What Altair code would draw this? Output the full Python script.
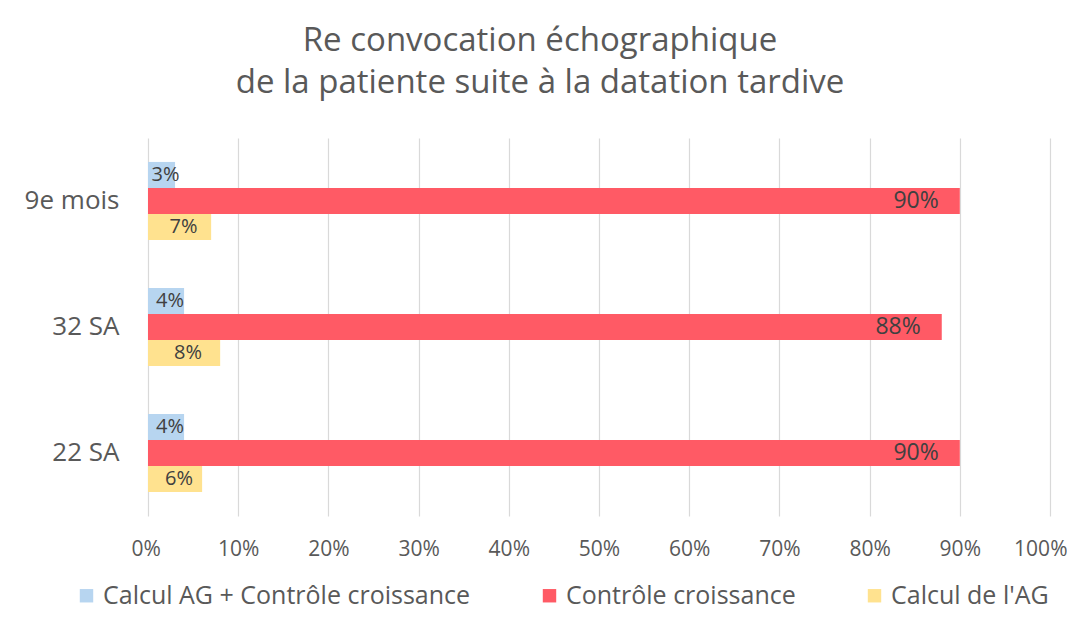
import altair as alt
import pandas as pd

categories = ["9e mois", "32 SA", "22 SA"]
series = ["Calcul AG + Contrôle croissance", "Contrôle croissance", "Calcul de l'AG"]
colors = ["#B7D5F0", "#FF5A65", "#FFE28F"]
calcul_ag_controle = [3, 4, 4]
controle_croissance = [90, 88, 90]
calcul_ag = [7, 8, 6]

rows = []
for i, c in enumerate(categories):
    for s, vals in zip(series, [calcul_ag_controle, controle_croissance, calcul_ag]):
        rows.append({"cat": c, "serie": s, "value": vals[i] / 100, "label": f"{vals[i]}%"})
df = pd.DataFrame(rows)

FONT = "Open Sans"
GREY = "#595959"

y_enc = alt.Y("cat:N", sort=categories, title=None,
              scale=alt.Scale(paddingInner=0.38, paddingOuter=0.19),
              axis=alt.Axis(labelFontSize=26, labelColor=GREY, labelFont=FONT,
                            labelExpr="datum.label == '9e mois' ? '9e mois\u00a0' : datum.label",
                            ticks=False, domain=False, labelPadding=29, minExtent=135))
yoff = alt.YOffset("serie:N", sort=series, scale=alt.Scale(paddingInner=0, paddingOuter=0))

base = alt.Chart(df)

bars = base.mark_bar(cornerRadius=0).encode(
    x=alt.X("value:Q", title=None,
            scale=alt.Scale(domain=[0, 1], nice=False),
            axis=alt.Axis(format=".0%", values=[i / 10 for i in range(11)],
                          labelFontSize=21, labelColor=GREY, labelFont=FONT,
                          labelFlush=True, labelFlushOffset=17, labelOverlap=False,
                          ticks=False, domain=False, labelPadding=22,
                          grid=True, gridColor="#D9D9D9", gridWidth=1.2)),
    y=y_enc,
    yOffset=yoff,
    color=alt.Color("serie:N", sort=series,
                    scale=alt.Scale(domain=series, range=colors),
                    legend=alt.Legend(title=None, orient="none", direction="horizontal",
                                      legendX=-74, legendY=445,
                                      symbolType="square", symbolSize=180,
                                      symbolStrokeWidth=0, labelFontSize=25,
                                      labelFont=FONT, labelColor=GREY, labelLimit=0,
                                      columnPadding=66, symbolOffset=0,
                                      labelOffset=4)),
)

small = base.transform_filter(alt.datum.serie != series[1]).transform_calculate(
    xpos="datum.value / 2"
).mark_text(fontSize=20, font=FONT, color="#404040", align="center", baseline="middle", dx=4).encode(
    x=alt.X("xpos:Q"), y=alt.Y("cat:N", sort=categories), yOffset=yoff, text="label:N"
)

big = base.transform_filter(alt.datum.serie == series[1]).mark_text(
    fontSize=23, font=FONT, color="#404040", align="right", baseline="middle", dx=-21
).encode(
    x=alt.X("value:Q"), y=alt.Y("cat:N", sort=categories), yOffset=yoff, text="label:N"
)

chart = alt.layer(bars, small, big).properties(
    width=902, height=378,
    padding={"left": 5, "top": 17, "right": 0, "bottom": 3},
    title=alt.TitleParams(
        text=["Re convocation échographique", "de la patiente suite à la datation tardive"],
        fontSize=33, font=FONT, color=GREY, fontWeight="normal",
        anchor="middle", frame="bounds", lineHeight=42, offset=38),
).configure_view(stroke=None)

chart.save("out.html", embed_options={"renderer": "svg", "actions": False})
